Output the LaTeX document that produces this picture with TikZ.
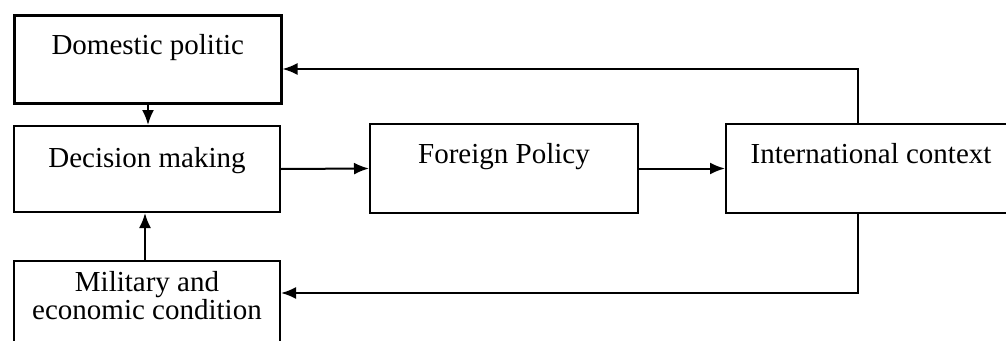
\documentclass[tikz,border=0pt]{standalone}
\usepackage{fontspec}
\setmainfont{Liberation Serif}
\usetikzlibrary{arrows.meta}
\tikzstyle{block}=[draw, line width=2pt, inner sep=0pt, anchor=north west,
  font=\fontsize{29}{28}\selectfont]
\tikzstyle{link}=[draw, line width=2pt, -{Latex[length=15pt,width=12pt]}]

\begin{document}
\begin{tikzpicture}[x=1pt, y=-1pt]
\useasboundingbox (0,0) rectangle (1006,340);
\node[block, minimum width=267pt, text height=39pt, text depth=49pt, line width=2.5pt] (dom) at (13,14) {Domestic politic};
\node[block, minimum width=266pt, text height=41pt, text depth=45pt] (dec) at (13,125) {Decision making};
\node[block, minimum width=266pt, text height=58pt, text depth=60pt, align=center] (mil) at (13,260) {Military and\\economic condition};
\node[block, minimum width=268pt, text height=39pt, text depth=50pt] (fp) at (369,123) {Foreign Policy};
\node[block, minimum width=290pt, text height=39pt, text depth=50pt] (intl) at (725,123) {International context};
\coordinate (top) at (858,69);
\coordinate (bot) at (858,293);
\path[link] (dom.south -| 148,0) -- (dec.north -| 148,0);
\path[link] (mil.north -| 145,0) -- (dec.south -| 145,0);
\path[link] (dec.east) -- (fp.west);
\path[link] (fp.east) -- (intl.west);
\path[link] (intl.north -| top) -- (top) -- (top -| dom.east);
\path[link] (intl.south -| bot) -- (bot) -- (bot -| mil.east);
\end{tikzpicture}
\end{document}
